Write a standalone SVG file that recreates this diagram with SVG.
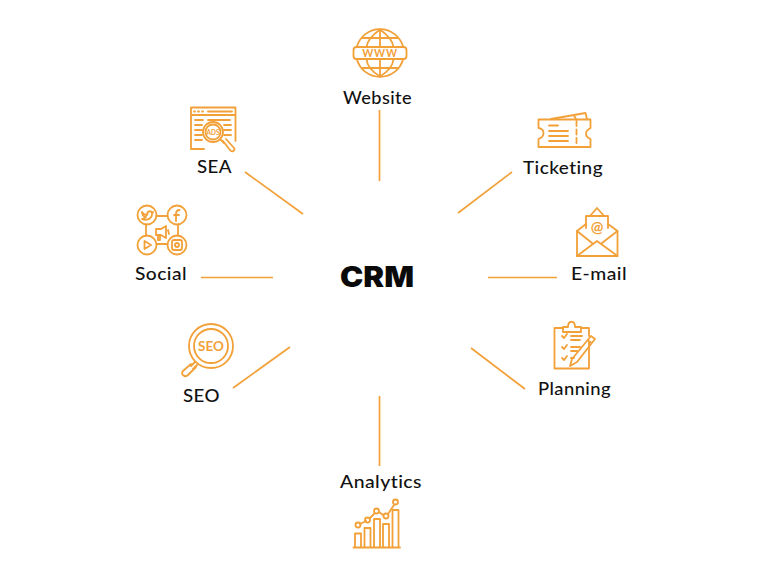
<svg xmlns="http://www.w3.org/2000/svg" width="770" height="577" viewBox="0 0 770 577">
<style>
.i{fill:none;stroke:#F2A038;stroke-width:1.8;stroke-linecap:round;stroke-linejoin:round}
.t{font-family:"Lato","Liberation Sans",sans-serif;font-size:17.5px;font-weight:500;fill:#111;letter-spacing:.4px}
.o{font-family:"Lato","Liberation Sans",sans-serif;font-weight:700;fill:#F2A038}
#connectors line{stroke:#F2A038;stroke-width:1.7}
</style>
<rect width="770" height="577" fill="#fff"/>
<g id="connectors">
<line x1="379.500" y1="110" x2="379.500" y2="181"/>
<line x1="512" y1="172" x2="458" y2="213"/>
<line x1="488" y1="277.500" x2="557" y2="277.500"/>
<line x1="471" y1="348" x2="525" y2="389"/>
<line x1="379.500" y1="396" x2="379.500" y2="466"/>
<line x1="290" y1="347" x2="233" y2="388"/>
<line x1="201" y1="277.500" x2="273" y2="277.500"/>
<line x1="245" y1="172" x2="303" y2="214"/>
</g>
<g id="crm"><text x="340" y="287" textLength="74" lengthAdjust="spacingAndGlyphs" style="font-family:Inter,'Liberation Sans',sans-serif;font-weight:900;font-size:28px;fill:#0a0a0a">CRM</text></g>
<g id="website">
<path class="i" d="M356.800 47A24 24 0 0 1 403.200 47M356.800 59A24 24 0 0 0 403.200 59"/>
<rect class="i" x="353.500" y="47" width="53" height="12" rx="3"/>
<path class="i" d="M380 29.500C371 36 367 42 366.500 47M380 29.500C389 36 393 42 393.500 47M380 29.500V47M366.500 59C367 66 371 71 380 76.500C389 71 393 66 393.500 59M380 59V76.500M362.500 38H397.500M362.500 68H397.500"/>
<text x="380" y="57" text-anchor="middle" class="o" font-size="10.500" letter-spacing=".8">WWW</text>
<text class="t" x="343" y="104" textLength="69" lengthAdjust="spacingAndGlyphs">Website</text>
</g>
<g id="ticketing">
<path class="i" d="M538.500 119.500H590.500V128C587 130 586 131 586 133.500C586 136 588 138 590.500 139V147H538.500V139C542 138 543.500 136 543.500 133C543.500 130 542 128.500 538.500 128Z"/>
<path class="i" d="M551 119L585.500 113L587 119M574 115.500L576 119"/>
<path class="i" stroke-dasharray="5 3.500" d="M576.500 121V146"/>
<path class="i" d="M549 125.500H558M549 131H568M549 136H568M549 141H568"/>
<text class="t" x="523" y="174" textLength="80" lengthAdjust="spacingAndGlyphs">Ticketing</text>
</g>
<g id="email">
<path class="i" d="M586 228V216H590L597 208L604 216H608V228"/>
<path class="i" d="M590 216H604"/>
<path class="i" d="M586 224L577 231V256H617.500V231L608 224"/>
<path class="i" d="M577 231L592 243M617.500 231L602 243M577 256L597 241L617.500 256"/>
<text x="597" y="232" text-anchor="middle" class="o" font-size="15" font-weight="400">@</text>
<text class="t" x="571" y="280" textLength="56" lengthAdjust="spacingAndGlyphs">E-mail</text>
</g>
<g id="planning">
<path class="i" d="M563 328H554.500V368.500H589V342M589 336V328H581"/>
<path class="i" d="M563 332V327H568C568 320 575 320 575 327H581V332Z"/>
<path class="i" d="M562 336L564 338L567 334M562 347L564 349L567 345M562 358L564 360L567 356"/>
<path class="i" d="M571 336H582M571 340H580M571 347H580M571 351H577M571 358H574"/>
<path class="i" d="M591 336L595 339L577 362L570 366L572 359ZM587.500 340L591.500 343"/>
<text class="t" x="538" y="395" textLength="73" lengthAdjust="spacingAndGlyphs">Planning</text>
</g>
<g id="analytics">
<path class="i" d="M353.500 547.500H400M355 547V533.500H361V547M364.500 547V528H370.500V547M374 547V519H380V547M383 547V524H389V547M392.500 547V510H398.500V547"/>
<path class="i" d="M360 524L366 521M370 518L374 514M379 512L383 515M388 514L394 505"/>
<circle class="i" cx="358" cy="525" r="2.500"/><circle class="i" cx="367.500" cy="520" r="2.500"/><circle class="i" cx="376.500" cy="511" r="2.500"/><circle class="i" cx="386" cy="516" r="2.500"/><circle class="i" cx="395.500" cy="502" r="2.500"/>
<text class="t" x="340" y="488" textLength="82" lengthAdjust="spacingAndGlyphs">Analytics</text>
</g>
<g id="seo">
<circle class="i" cx="211" cy="346" r="22"/><circle class="i" cx="211" cy="346" r="17"/>
<path class="i" d="M195 362L191 366M197 365L193 369M191 364L183 371C180 374 185 378 188 375L196 367"/>
<text x="211" y="351" text-anchor="middle" class="o" font-size="13.500">SEO</text>
<text class="t" x="183" y="402" textLength="37" lengthAdjust="spacingAndGlyphs">SEO</text>
</g>
<g id="social">
<circle class="i" cx="147" cy="215" r="9.500"/><circle class="i" cx="177" cy="215" r="9.500"/><circle class="i" cx="147" cy="245" r="9.500"/><circle class="i" cx="177" cy="245" r="9.500"/>
<path class="i" d="M156.500 216H167.500M156.500 244H167.500M146 224.500V235.500M178 224.500V235.500"/>
<path class="i" d="M142 212C144 215 147 215 147 215C147 211 151 210 152 213L153 212L152 214C152 219 146 221 142 219C144 219 145 218 146 217C144 217 142 215 142 212Z"/>
<path class="i" d="M179.500 210C176.500 210 176 212 176 214V221M174 215H179"/>
<path class="i" d="M144.500 241L151 245L144.500 249Z"/>
<rect class="i" x="172" y="240" width="10" height="10" rx="2"/><circle class="i" cx="177" cy="245" r="2"/>
<path class="i" d="M156 229H161L166 226V238L161 235H156ZM158 235V240H160V235M168 230L169 234"/>
<text class="t" x="135" y="280" textLength="52" lengthAdjust="spacingAndGlyphs">Social</text>
</g>
<g id="sea">
<path class="i" d="M204 149H191V107.500H235.500V141M191 115H235.500"/>
<path class="i" d="M194 111.500H195M198 111.500H199M202 111.500H203M208 111.500H232"/>
<path class="i" d="M195 120H203M208 120H230M195 125H202M224 125H231M195 130H202M224 130H231M195 135H202M224 135H231M195 140H202"/>
<circle class="i" cx="213" cy="132" r="10"/><circle class="i" cx="213" cy="132" r="7.500"/>
<path class="i" d="M220 139L224 143M223 141L230 150C232 153 236 150 234 148L226 139"/>
<text x="213" y="134.500" text-anchor="middle" class="o" font-size="6.500">ADS</text>
<text class="t" x="197" y="173" textLength="35" lengthAdjust="spacingAndGlyphs">SEA</text>
</g>
</svg>
